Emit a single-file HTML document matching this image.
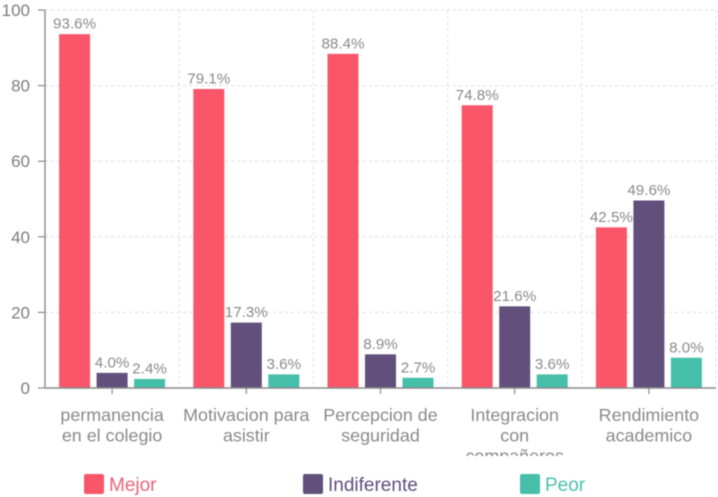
<!DOCTYPE html>
<html>
<head>
<meta charset="utf-8">
<title>Chart</title>
<style>
html,body{margin:0;padding:0;background:#fff;width:718px;height:497px;overflow:hidden}
svg{display:block;font-family:"Liberation Sans",sans-serif;filter:blur(0.6px)}
</style>
</head>
<body>
<svg id="chart" width="718" height="497" viewBox="0 0 718 497" xmlns="http://www.w3.org/2000/svg">
<defs><clipPath id="label-clip"><rect x="0" y="400" width="718" height="56"></rect></clipPath></defs>
<g id="grid"></g>
<g id="bars"></g>
<g id="axes"></g>
<g id="cats" clip-path="url(#label-clip)"></g>
<g id="legend"></g>
</svg>
<script>
const categories = [
  ["permanencia", "en el colegio"],
  ["Motivacion para", "asistir"],
  ["Percepcion de", "seguridad"],
  ["Integracion", "con", "compañeros"],
  ["Rendimiento", "academico"]
];
const seriesNames = ["Mejor", "Indiferente", "Peor"];
const mejor = [93.6, 79.1, 88.4, 74.8, 42.5];
const indiferente = [4.0, 17.3, 8.9, 21.6, 49.6];
const peor = [2.4, 3.6, 2.7, 3.6, 8.0];
const yTicks = [0, 20, 40, 60, 80, 100];

const NS = "http://www.w3.org/2000/svg";
const plot = {left: 45, right: 716, top: 10, bottom: 388};
const barColors = ["#f9566a", "#624f7b", "#45bfa9"];
const legendText = ["#e9667c", "#5f5080", "#4cc0ac"];
const legendX = [84, 303, 520];
const allSeries = [mejor, indiferente, peor];

function yScale(v) { return plot.bottom - (v / 100) * (plot.bottom - plot.top); }
function groupWidth() { return (plot.right - plot.left) / categories.length; }
function xCenter(i) { return plot.left + groupWidth() * (i + 0.5); }
function barCenter(i, s) { return xCenter(i) + (s - 1) * 37.5; }
function make(tag, attrs, parent, text) {
  const el = document.createElementNS(NS, tag);
  for (const k in attrs) el.setAttribute(k, attrs[k]);
  if (text !== undefined) el.textContent = text;
  parent.appendChild(el);
  return el;
}

const grid = document.getElementById("grid");
const axes = document.getElementById("axes");
const bars = document.getElementById("bars");
const cats = document.getElementById("cats");
const legend = document.getElementById("legend");

yTicks.forEach(function (t) {
  const y = yScale(t);
  if (t > 0) {
    const g = make("line", {x1: plot.left, x2: plot.right, y1: y, y2: y, stroke: "#dcdcdc", "stroke-dasharray": "3 3"}, grid);
    
    
  }
  const tick = make("line", {x1: 38, x2: plot.left, y1: y, y2: y, stroke: "#8a8a8a", "stroke-width": 1.2}, axes);
  
  
  const label = make("text", {x: 30, y: y + 6, "text-anchor": "end", "font-size": 17, fill: "#7d7d7d"}, axes, String(t));
  
  
});

categories.forEach(function (lines, i) {
  const vx = plot.left + groupWidth() * (i + 1);
  const v = make("line", {x1: vx, x2: vx, y1: plot.top, y2: plot.bottom, stroke: "#e0e0e0", "stroke-dasharray": "3 3"}, grid);
  
  

  const tick = make("line", {x1: xCenter(i), x2: xCenter(i), y1: plot.bottom, y2: plot.bottom + 6, stroke: "#8a8a8a", "stroke-width": 1.2}, axes);
  
  

  const label = make("text", {"text-anchor": "middle", "font-size": 17.9, fill: "#8a8a8a"}, cats);
  
  
  lines.forEach(function (line, n) {
    make("tspan", {x: xCenter(i), y: 421 + n * 20.5}, label, line);
  });

  allSeries.forEach(function (values, s) {
    const v0 = values[i];
    const top = yScale(v0);
    const cx = barCenter(i, s);
    const bar = make("rect", {x: cx - 15.5, y: top, width: 31, height: plot.bottom - top, fill: barColors[s]}, bars);
    
    
    const val = make("text", {x: cx, y: top - 5.5, "text-anchor": "middle", "font-size": 15.2, fill: "#8a8a8a"}, bars, v0.toFixed(1) + "%");
    
    
  });
});

const xAxis = make("line", {x1: plot.left, x2: plot.right, y1: plot.bottom, y2: plot.bottom, stroke: "#8a8a8a", "stroke-width": 1.4}, axes);


const yAxis = make("line", {x1: plot.left, x2: plot.left, y1: plot.top, y2: plot.bottom, stroke: "#8a8a8a", "stroke-width": 1.4}, axes);



seriesNames.forEach(function (name, s) {
  const swatch = make("rect", {x: legendX[s], y: 474, width: 20, height: 20, rx: 2, fill: barColors[s]}, legend);
  
  
  const t = make("text", {x: legendX[s] + 25, y: 491, "font-size": 19, fill: legendText[s]}, legend, name);
  
  
});
</script>
</body>
</html>
